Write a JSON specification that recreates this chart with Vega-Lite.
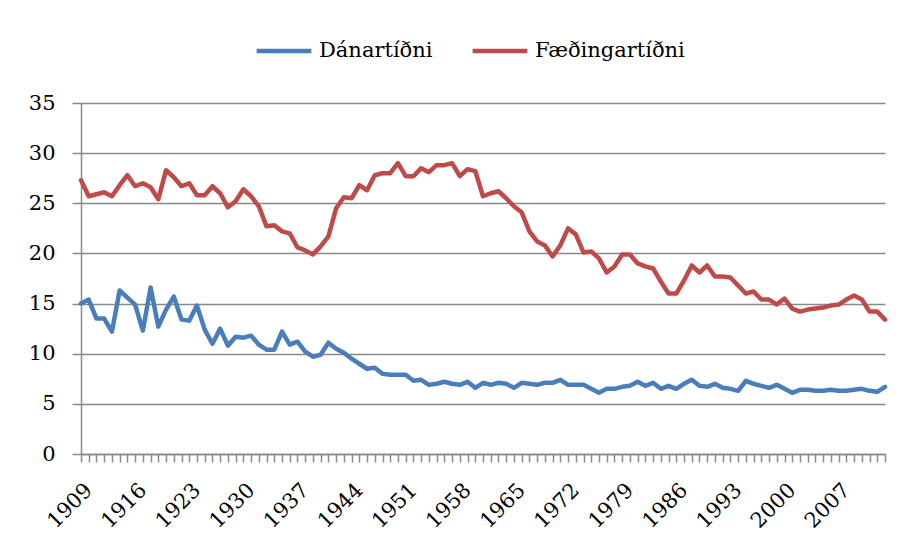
{
  "$schema": "https://vega.github.io/schema/vega-lite/v6.json",
  "width": 804,
  "height": 351,
  "autosize": "none",
  "padding": {"left": 81, "top": 103, "right": 35, "bottom": 92},
  "background": "white",
  "config": {"view": {"stroke": null}, "font": "DejaVu Serif"},
  "data": {"values": [
    {"year":1909,"Dánartíðni":15.0,"Fæðingartíðni":27.3},
    {"year":1910,"Dánartíðni":15.4,"Fæðingartíðni":25.7},
    {"year":1911,"Dánartíðni":13.5,"Fæðingartíðni":25.9},
    {"year":1912,"Dánartíðni":13.5,"Fæðingartíðni":26.1},
    {"year":1913,"Dánartíðni":12.2,"Fæðingartíðni":25.7},
    {"year":1914,"Dánartíðni":16.3,"Fæðingartíðni":26.8},
    {"year":1915,"Dánartíðni":15.6,"Fæðingartíðni":27.8},
    {"year":1916,"Dánartíðni":14.9,"Fæðingartíðni":26.7},
    {"year":1917,"Dánartíðni":12.3,"Fæðingartíðni":27.0},
    {"year":1918,"Dánartíðni":16.6,"Fæðingartíðni":26.6},
    {"year":1919,"Dánartíðni":12.7,"Fæðingartíðni":25.4},
    {"year":1920,"Dánartíðni":14.4,"Fæðingartíðni":28.3},
    {"year":1921,"Dánartíðni":15.7,"Fæðingartíðni":27.6},
    {"year":1922,"Dánartíðni":13.4,"Fæðingartíðni":26.7},
    {"year":1923,"Dánartíðni":13.3,"Fæðingartíðni":27.0},
    {"year":1924,"Dánartíðni":14.8,"Fæðingartíðni":25.8},
    {"year":1925,"Dánartíðni":12.4,"Fæðingartíðni":25.8},
    {"year":1926,"Dánartíðni":11.0,"Fæðingartíðni":26.7},
    {"year":1927,"Dánartíðni":12.5,"Fæðingartíðni":26.0},
    {"year":1928,"Dánartíðni":10.8,"Fæðingartíðni":24.6},
    {"year":1929,"Dánartíðni":11.7,"Fæðingartíðni":25.2},
    {"year":1930,"Dánartíðni":11.6,"Fæðingartíðni":26.4},
    {"year":1931,"Dánartíðni":11.8,"Fæðingartíðni":25.7},
    {"year":1932,"Dánartíðni":10.9,"Fæðingartíðni":24.7},
    {"year":1933,"Dánartíðni":10.4,"Fæðingartíðni":22.7},
    {"year":1934,"Dánartíðni":10.4,"Fæðingartíðni":22.8},
    {"year":1935,"Dánartíðni":12.2,"Fæðingartíðni":22.2},
    {"year":1936,"Dánartíðni":10.9,"Fæðingartíðni":22.0},
    {"year":1937,"Dánartíðni":11.2,"Fæðingartíðni":20.6},
    {"year":1938,"Dánartíðni":10.2,"Fæðingartíðni":20.3},
    {"year":1939,"Dánartíðni":9.7,"Fæðingartíðni":19.9},
    {"year":1940,"Dánartíðni":9.9,"Fæðingartíðni":20.7},
    {"year":1941,"Dánartíðni":11.1,"Fæðingartíðni":21.7},
    {"year":1942,"Dánartíðni":10.5,"Fæðingartíðni":24.5},
    {"year":1943,"Dánartíðni":10.1,"Fæðingartíðni":25.6},
    {"year":1944,"Dánartíðni":9.5,"Fæðingartíðni":25.5},
    {"year":1945,"Dánartíðni":9.0,"Fæðingartíðni":26.8},
    {"year":1946,"Dánartíðni":8.5,"Fæðingartíðni":26.3},
    {"year":1947,"Dánartíðni":8.6,"Fæðingartíðni":27.8},
    {"year":1948,"Dánartíðni":8.0,"Fæðingartíðni":28.0},
    {"year":1949,"Dánartíðni":7.9,"Fæðingartíðni":28.0},
    {"year":1950,"Dánartíðni":7.9,"Fæðingartíðni":29.0},
    {"year":1951,"Dánartíðni":7.9,"Fæðingartíðni":27.7},
    {"year":1952,"Dánartíðni":7.3,"Fæðingartíðni":27.7},
    {"year":1953,"Dánartíðni":7.4,"Fæðingartíðni":28.5},
    {"year":1954,"Dánartíðni":6.9,"Fæðingartíðni":28.1},
    {"year":1955,"Dánartíðni":7.0,"Fæðingartíðni":28.8},
    {"year":1956,"Dánartíðni":7.2,"Fæðingartíðni":28.8},
    {"year":1957,"Dánartíðni":7.0,"Fæðingartíðni":29.0},
    {"year":1958,"Dánartíðni":6.9,"Fæðingartíðni":27.7},
    {"year":1959,"Dánartíðni":7.2,"Fæðingartíðni":28.4},
    {"year":1960,"Dánartíðni":6.6,"Fæðingartíðni":28.2},
    {"year":1961,"Dánartíðni":7.1,"Fæðingartíðni":25.7},
    {"year":1962,"Dánartíðni":6.9,"Fæðingartíðni":26.0},
    {"year":1963,"Dánartíðni":7.1,"Fæðingartíðni":26.2},
    {"year":1964,"Dánartíðni":7.0,"Fæðingartíðni":25.5},
    {"year":1965,"Dánartíðni":6.6,"Fæðingartíðni":24.7},
    {"year":1966,"Dánartíðni":7.1,"Fæðingartíðni":24.1},
    {"year":1967,"Dánartíðni":7.0,"Fæðingartíðni":22.2},
    {"year":1968,"Dánartíðni":6.9,"Fæðingartíðni":21.2},
    {"year":1969,"Dánartíðni":7.1,"Fæðingartíðni":20.8},
    {"year":1970,"Dánartíðni":7.1,"Fæðingartíðni":19.7},
    {"year":1971,"Dánartíðni":7.4,"Fæðingartíðni":20.8},
    {"year":1972,"Dánartíðni":6.9,"Fæðingartíðni":22.5},
    {"year":1973,"Dánartíðni":6.9,"Fæðingartíðni":21.9},
    {"year":1974,"Dánartíðni":6.9,"Fæðingartíðni":20.1},
    {"year":1975,"Dánartíðni":6.5,"Fæðingartíðni":20.2},
    {"year":1976,"Dánartíðni":6.1,"Fæðingartíðni":19.5},
    {"year":1977,"Dánartíðni":6.5,"Fæðingartíðni":18.1},
    {"year":1978,"Dánartíðni":6.5,"Fæðingartíðni":18.7},
    {"year":1979,"Dánartíðni":6.7,"Fæðingartíðni":19.9},
    {"year":1980,"Dánartíðni":6.8,"Fæðingartíðni":19.9},
    {"year":1981,"Dánartíðni":7.2,"Fæðingartíðni":19.0},
    {"year":1982,"Dánartíðni":6.8,"Fæðingartíðni":18.7},
    {"year":1983,"Dánartíðni":7.1,"Fæðingartíðni":18.5},
    {"year":1984,"Dánartíðni":6.5,"Fæðingartíðni":17.2},
    {"year":1985,"Dánartíðni":6.8,"Fæðingartíðni":16.0},
    {"year":1986,"Dánartíðni":6.5,"Fæðingartíðni":16.0},
    {"year":1987,"Dánartíðni":7.0,"Fæðingartíðni":17.3},
    {"year":1988,"Dánartíðni":7.4,"Fæðingartíðni":18.8},
    {"year":1989,"Dánartíðni":6.8,"Fæðingartíðni":18.1},
    {"year":1990,"Dánartíðni":6.7,"Fæðingartíðni":18.8},
    {"year":1991,"Dánartíðni":7.0,"Fæðingartíðni":17.7},
    {"year":1992,"Dánartíðni":6.6,"Fæðingartíðni":17.7},
    {"year":1993,"Dánartíðni":6.5,"Fæðingartíðni":17.6},
    {"year":1994,"Dánartíðni":6.3,"Fæðingartíðni":16.8},
    {"year":1995,"Dánartíðni":7.3,"Fæðingartíðni":16.0},
    {"year":1996,"Dánartíðni":7.0,"Fæðingartíðni":16.2},
    {"year":1997,"Dánartíðni":6.8,"Fæðingartíðni":15.4},
    {"year":1998,"Dánartíðni":6.6,"Fæðingartíðni":15.4},
    {"year":1999,"Dánartíðni":6.9,"Fæðingartíðni":14.9},
    {"year":2000,"Dánartíðni":6.5,"Fæðingartíðni":15.5},
    {"year":2001,"Dánartíðni":6.1,"Fæðingartíðni":14.5},
    {"year":2002,"Dánartíðni":6.4,"Fæðingartíðni":14.2},
    {"year":2003,"Dánartíðni":6.4,"Fæðingartíðni":14.4},
    {"year":2004,"Dánartíðni":6.3,"Fæðingartíðni":14.5},
    {"year":2005,"Dánartíðni":6.3,"Fæðingartíðni":14.6},
    {"year":2006,"Dánartíðni":6.4,"Fæðingartíðni":14.8},
    {"year":2007,"Dánartíðni":6.3,"Fæðingartíðni":14.9},
    {"year":2008,"Dánartíðni":6.3,"Fæðingartíðni":15.4},
    {"year":2009,"Dánartíðni":6.4,"Fæðingartíðni":15.8},
    {"year":2010,"Dánartíðni":6.5,"Fæðingartíðni":15.4},
    {"year":2011,"Dánartíðni":6.3,"Fæðingartíðni":14.2},
    {"year":2012,"Dánartíðni":6.2,"Fæðingartíðni":14.2},
    {"year":2013,"Dánartíðni":6.7,"Fæðingartíðni":13.4}
  ]},
  "transform": [{"fold": ["Dánartíðni", "Fæðingartíðni"], "as": ["series", "value"]}],
  "mark": {"type": "line", "strokeWidth": 4.5, "strokeCap": "round", "strokeJoin": "round"},
  "encoding": {
    "x": {
      "field": "year", "type": "ordinal",
      "scale": {"type": "point", "padding": 0},
      "axis": {
        "title": null, "labelAngle": -45, "labelFont": "DejaVu Serif", "labelFontSize": 21,
        "labelColor": "black", "tickSize": 8, "tickColor": "#898989", "tickWidth": 1.5,
        "domainColor": "#898989", "domainWidth": 1.5, "labelPadding": 17, "grid": false,
        "labelOverlap": false, "labelBound": false,
        "labelExpr": "(datum.value - 1909) % 7 === 0 ? datum.value : ''"
      }
    },
    "y": {
      "field": "value", "type": "quantitative",
      "scale": {"domain": [0, 35], "nice": false},
      "axis": {
        "title": null, "values": [0, 5, 10, 15, 20, 25, 30, 35], "grid": true,
        "gridColor": "#898989", "gridWidth": 1.5, "tickSize": 9, "tickColor": "#898989",
        "tickWidth": 1.5, "domainColor": "#898989", "domainWidth": 1.5, "labelPadding": 17,
        "labelFont": "DejaVu Serif", "labelFontSize": 21, "labelColor": "black"
      }
    },
    "color": {
      "field": "series", "type": "nominal",
      "scale": {"domain": ["Dánartíðni", "Fæðingartíðni"], "range": ["#4a7ebb", "#be4b48"]},
      "legend": {
        "title": null, "orient": "none", "legendX": 173, "legendY": -82, "direction": "horizontal",
        "symbolType": "stroke", "symbolStrokeWidth": 4.5, "symbolSize": 3000,
        "labelFont": "DejaVu Serif", "labelFontSize": 21, "labelColor": "black",
        "labelOffset": 5, "columnPadding": 30
      }
    }
  }
}
